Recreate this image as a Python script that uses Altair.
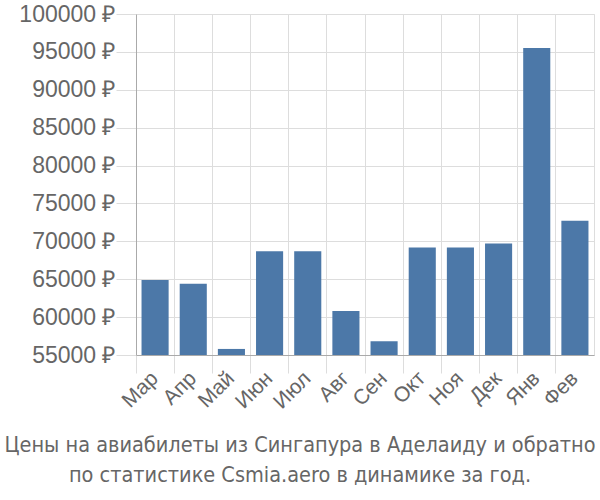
import altair as alt
import pandas as pd

months = ["Мар", "Апр", "Май", "Июн", "Июл", "Авг", "Сен", "Окт", "Ноя", "Дек", "Янв", "Фев"]
prices = [64900, 64400, 55800, 68700, 68700, 60800, 56800, 69200, 69200, 69700, 95500, 72700]
y_ticks = [55000, 60000, 65000, 70000, 75000, 80000, 85000, 90000, 95000, 100000]
title_lines = ["Цены на авиабилеты из Сингапура в Аделаиду и обратно",
               "по статистике Csmia.aero в динамике за год."]

df = pd.DataFrame({"month": months, "price": prices})

font = "Liberation Sans"

chart = alt.Chart(df).mark_bar(color="#4c78a8", width=alt.RelativeBandSize(0.71), clip=True).encode(
    x=alt.X("month:N", sort=months, title=None,
            scale=alt.Scale(paddingInner=0, paddingOuter=0),
            axis=alt.Axis(labelAngle=-45, labelFont=font, labelFontSize=21, labelColor="#666",
                          bandPosition=0, grid=True, gridColor="#ddd", tickColor="#ddd",
                          tickSize=18, domainColor="#aaa", labelPadding=2,
                          labelAlign="right", labelBaseline="middle")),
    y=alt.Y("price:Q", title=None,
            scale=alt.Scale(domain=[55000, 100000], zero=False, nice=False),
            axis=alt.Axis(values=y_ticks, labelExpr="datum.value + ' ₽'", labelFont=font,
                          labelFontSize=23, labelColor="#666", gridColor="#ddd",
                          tickColor="#ddd", tickSize=20, domainColor="#aaa", labelPadding=1)),
    y2=alt.datum(55000),
).properties(
    width=458, height=341,
    padding={"left": 136, "top": 14, "right": 6, "bottom": 145},
    autosize=alt.AutoSizeParams(type="none"),
    title=alt.TitleParams(text=title_lines, orient="bottom", anchor="middle",
                          font="DejaVu Sans Condensed", fontSize=21.5, fontWeight="normal",
                          color="#666", offset=23, lineHeight=30, dx=-65),
).configure_view(stroke="#ddd")

chart.save("out.html", embed_options={"renderer": "svg", "actions": False})
